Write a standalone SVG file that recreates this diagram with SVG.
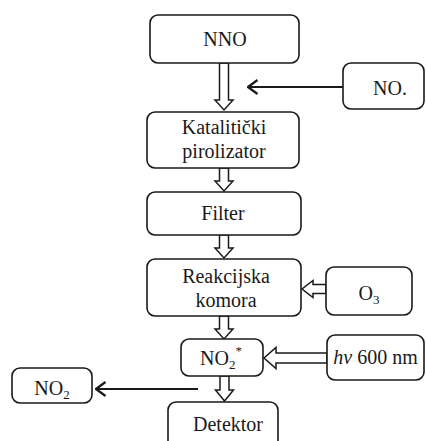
<svg xmlns="http://www.w3.org/2000/svg" width="426" height="441" viewBox="0 0 426 441">
<defs>
<style>
.box{fill:#fff;stroke:#1a1a1a;stroke-width:1.6}
text{font-family:'Liberation Serif','DejaVu Serif',serif;font-size:20px;fill:#1a1a1a;text-anchor:middle}
.ha{fill:#fff;stroke:#1a1a1a;stroke-width:1.5;stroke-linejoin:miter}
.ln{fill:none;stroke:#1a1a1a;stroke-width:2.2}
</style>
<marker id="chev" viewBox="0 0 12 16" refX="10.5" refY="8" markerWidth="12" markerHeight="16" markerUnits="userSpaceOnUse" orient="auto">
<path d="M1,1 L10.5,8 L1,15" fill="none" stroke="#1a1a1a" stroke-width="2.2"/>
</marker>
</defs>
<rect width="426" height="441" fill="#fff"/>
<g id="connectors">
<polygon class="ha" points="219.5,63 228.5,63 228.5,100 233,100 224,110 215,100 219.5,100"/>
<polygon class="ha" points="219.5,168 228.5,168 228.5,181 233,181 224,191 215,181 219.5,181"/>
<polygon class="ha" points="219.5,235 228.5,235 228.5,248 233,248 224,258 215,248 219.5,248"/>
<polygon class="ha" points="219.5,316 228.5,316 228.5,329 233,329 224,339 215,329 219.5,329"/>
<polygon class="ha" points="220,376 229,376 229,390 233.5,390 224.5,401 215.5,390 220,390"/>
<polygon class="ha" points="326,284.5 313,284.5 313,280.5 302,289 313,297.5 313,293.5 326,293.5"/>
<polygon class="ha" points="327,353 276,353 276,347.5 264,358 276,368.5 276,363 327,363"/>
<line class="ln" x1="343" y1="87" x2="248" y2="87" marker-end="url(#chev)"/>
<line class="ln" x1="198" y1="389" x2="96" y2="389" marker-end="url(#chev)"/>
</g>
<g id="nno">
<rect class="box" x="150" y="15" width="149" height="48" rx="8"/>
<text x="225" y="46">NNO</text>
</g>
<g id="no">
<rect class="box" x="343" y="63" width="81" height="46" rx="8"/>
<text x="390" y="95">NO.</text>
</g>
<g id="katalitic">
<rect class="box" x="147" y="112" width="152" height="56" rx="8"/>
<text x="224" y="134">Katalitički</text>
<text x="224" y="158">pirolizator</text>
</g>
<g id="filter">
<rect class="box" x="147" y="192" width="154" height="43" rx="8"/>
<text x="223" y="220">Filter</text>
</g>
<g id="reakcijska">
<rect class="box" x="147" y="259" width="154" height="57" rx="8"/>
<text x="226" y="283">Reakcijska</text>
<text x="226" y="307">komora</text>
</g>
<g id="o3">
<rect class="box" x="326" y="267" width="86" height="48" rx="8"/>
<text x="369" y="300">O<tspan font-size="13" dy="4">3</tspan></text>
</g>
<g id="no2star">
<rect class="box" x="181" y="339" width="82" height="37" rx="8"/>
<text x="200" y="365" style="text-anchor:start">NO<tspan font-size="13" dy="4">2</tspan><tspan font-size="13" dy="-14">*</tspan></text>
</g>
<g id="hv">
<rect class="box" x="327" y="335" width="97" height="45" rx="8"/>
<text x="375.5" y="364"><tspan font-style="italic">hv</tspan> 600 nm</text>
</g>
<g id="no2">
<rect class="box" x="12" y="368" width="80" height="35" rx="8"/>
<text x="52" y="395">NO<tspan font-size="13" dy="4">2</tspan></text>
</g>
<g id="detektor">
<rect class="box" x="168" y="402" width="110" height="50" rx="8"/>
<text x="228" y="431">Detektor</text>
</g>
</svg>
